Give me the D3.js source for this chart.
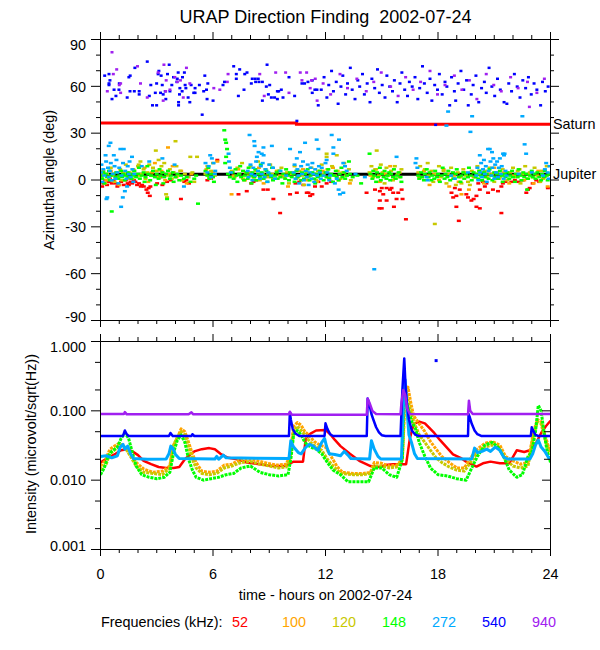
<!DOCTYPE html>
<html><head><meta charset="utf-8">
<script src="https://cdn.jsdelivr.net/npm/d3@7"></script>
<style>
body{margin:0;background:#fff}
svg text{font-family:"Liberation Sans",Arial,Helvetica,sans-serif;fill:#000}
</style>
</head><body>
<svg id="c" width="600" height="650"></svg>
<script>
// ---------------- data ----------------
const titleText = "URAP Direction Finding  2002-07-24";
const hourTicks = [0, 6, 12, 18, 24];
const angleTicks = [90, 60, 30, 0, -30, -60, -90];
const intensityTicks = [1, 0.1, 0.01, 0.001];
const intensityTickLabels = ["1.000", "0.100", "0.010", "0.001"];
const freqLabels = ["52", "100", "120", "148", "272", "540", "940"];

// reference lines (hour, degrees)
const saturn = [[0, 36.5], [10.45, 36.5], [10.45, 35.7], [24, 35.7]];
const jupiter = [[0, 3.7], [24, 3.7]];

// azimuth scatter (hour, degrees)
const ang52 = [[0.09,-4],[0.15,-2],[0.25,0],[0.35,-3],[0.44,-1],[0.5,1],[0.6,-2],[0.7,0],[0.8,-2],[0.9,-4],[0.98,-3],[1.1,-1],[1.24,-3],[1.35,0],[1.45,-2],[1.51,-3],[1.6,-1],[1.69,-2],[1.78,0],[1.86,-1],[1.95,-3],[2.05,-2],[2.15,-4],[2.22,-3],[2.31,-4],[2.45,-6],[2.52,-8],[2.57,-5],[2.63,-10],[2.66,-4],[3.02,-2],[3.19,2],[3.3,-3],[3.55,-1],[3.75,0],[4.29,-12],[4.47,-1],[4.58,0],[4.72,-2],[5.7,0],[5.9,1],[6.23,13],[7.36,-9],[7.8,-7],[8.04,-2],[8.16,-1],[8.3,0],[8.69,-6],[8.92,-6],[9.22,-12],[9.58,-21],[10.11,-9],[10.4,-2],[10.47,-8],[10.6,-1],[10.82,-3],[11.0,-8],[11.09,-8],[11.18,-10],[11.3,-9],[11.44,-4],[11.62,-1],[11.8,-4],[12.06,-2],[12.3,-1],[14.19,-8],[14.64,-6],[14.9,-7],[15.0,-5],[15.08,-9],[15.26,-5],[15.44,-6],[15.52,-5],[15.61,-8],[15.79,-12],[15.88,-8],[16.06,-6],[16.11,-12],[15.26,-13],[14.9,-13],[15.0,-18],[14.87,-18],[15.65,-17],[16.29,-25],[18.72,-8],[18.81,-11],[18.9,-5],[18.98,-10],[18.98,-17],[19.11,-26],[19.16,-6],[19.51,-9],[19.6,-11],[19.78,-13],[19.9,-12],[20.05,-10],[20.05,-17],[20.23,-6],[20.23,-18],[20.15,-2],[20.4,-1],[20.5,-4],[20.58,-2],[20.67,-8],[20.93,-6],[21.2,-7],[21.38,-4],[21.38,-21],[21.46,-2],[21.6,-1],[21.91,-1],[22.1,0],[22.3,-1],[22.53,0],[22.71,-8],[22.8,-6],[22.89,-5],[23.05,-2],[23.24,0],[23.4,-1],[23.86,-5]];

const ang100 = [[0.1,4],[0.3,0],[0.55,6],[0.8,2],[1.0,-3],[1.2,5],[1.5,1],[1.75,7],[2.1,3],[2.35,8],[2.55,-1],[2.75,5],[2.9,11],[3.05,2],[3.25,6],[3.45,0],[3.6,21],[3.65,4],[3.85,9],[4.05,2],[4.3,6],[4.6,-2],[4.85,4],[5.65,7],[5.85,1],[6.0,5],[6.23,12],[6.99,-9],[7.1,3],[7.35,7],[7.7,0],[7.95,5],[8.2,2],[8.45,8],[8.7,-2],[8.95,4],[9.2,1],[9.5,6],[9.75,3],[10.0,-4],[10.25,5],[10.55,2],[10.8,7],[11.05,0],[11.3,4],[11.55,-1],[11.85,6],[12.1,2],[12.4,8],[12.7,0],[13.0,5],[13.3,-2],[14.4,3],[14.65,7],[14.9,-1],[15.2,4],[15.45,9],[15.7,1],[15.95,5],[17.0,2],[17.25,6],[17.55,-3],[17.8,4],[18.05,0],[18.3,7],[18.6,-4],[18.85,3],[19.1,-1],[19.25,-9],[19.4,5],[19.65,-6],[19.9,2],[20.2,6],[20.45,-2],[20.7,4],[21.0,8],[21.25,1],[21.5,5],[21.8,-2],[22.05,3],[22.35,7],[22.6,0],[22.85,4],[23.1,-2],[23.35,6],[23.6,1],[23.85,-4]];

const ang120 = [[0.05,2],[0.15,6],[0.25,-2],[0.35,4],[0.45,1],[0.55,8],[0.65,3],[0.75,-1],[0.85,5],[0.95,2],[1.05,7],[1.15,0],[1.25,4],[1.35,10],[1.45,2],[1.55,5],[1.7,1],[1.8,6],[2.0,9],[2.04,10],[2.13,12],[2.2,4],[2.3,7],[2.4,1],[2.5,5],[2.6,10],[2.7,3],[2.8,8],[2.95,19],[3.0,6],[3.1,13],[3.15,2],[3.25,9],[3.3,5],[3.4,11],[3.5,-9],[3.55,-11],[3.6,3],[3.7,7],[3.8,1],[3.9,5],[4.0,25],[4.05,9],[4.15,3],[4.25,6],[4.35,0],[4.5,4],[4.79,15],[4.7,2],[4.9,5],[5.15,15],[5.0,-1],[5.6,4],[5.7,9],[5.8,2],[5.9,6],[6.0,11],[6.1,3],[7.0,6],[7.15,2],[7.3,8],[7.4,4],[7.55,11],[7.6,1],[7.75,5],[7.9,3],[8.0,9],[8.15,2],[8.3,6],[8.4,12],[8.5,0],[8.65,4],[8.8,7],[8.9,2],[9.05,10],[9.15,4],[9.3,1],[9.4,6],[9.55,3],[9.65,8],[9.8,2],[9.95,5],[10.05,-2],[10.2,4],[10.35,9],[10.45,1],[10.6,6],[10.75,3],[10.85,-3],[11.0,5],[11.1,2],[11.25,8],[11.35,4],[11.5,0],[11.6,6],[11.8,10],[11.9,4],[12.06,17],[12.06,15],[12.1,7],[12.2,2],[12.35,9],[12.5,3],[12.6,16],[12.65,6],[12.8,1],[12.9,5],[13.0,11],[13.1,3],[13.25,7],[13.35,0],[14.35,5],[14.45,9],[14.55,2],[14.7,7],[14.73,19],[14.85,3],[14.95,10],[15.05,5],[15.15,-2],[15.25,8],[15.35,3],[15.5,6],[15.6,0],[15.7,9],[15.85,4],[15.95,2],[16.05,7],[16.95,5],[17.05,9],[17.15,2],[17.3,7],[17.45,11],[17.5,3],[17.65,6],[17.75,-1],[17.83,-28],[17.9,4],[18.05,9],[18.15,2],[18.3,6],[18.45,-2],[18.55,4],[18.7,8],[18.8,1],[18.95,-3],[19.05,5],[19.2,2],[19.25,-2],[19.35,7],[19.5,3],[19.6,-1],[19.7,-3],[19.8,6],[19.95,2],[20.1,9],[20.2,4],[20.35,0],[20.5,6],[20.6,2],[20.75,8],[20.9,4],[21.0,-1],[21.15,5],[21.3,2],[21.45,7],[21.55,3],[21.7,0],[21.85,5],[22.0,8],[22.1,2],[22.25,6],[22.4,-2],[22.5,4],[22.65,9],[22.75,1],[22.9,5],[23.05,2],[23.15,8],[23.3,3],[23.45,-1],[23.55,6],[23.7,2],[23.8,9],[23.95,4]];

const ang148 = [[0.05,3],[0.1,1],[0.15,5],[0.2,-2],[0.3,4],[0.35,2],[0.45,6],[0.5,0],[0.55,3],[0.6,-20],[0.7,4],[0.8,2],[0.85,5],[0.95,1],[1.0,3],[1.1,6],[1.15,2],[1.2,4],[1.3,0],[1.35,3],[1.45,5],[1.5,2],[1.6,4],[1.65,1],[1.75,3],[1.8,6],[1.9,2],[2.0,4],[2.05,8],[2.1,1],[2.2,3],[2.3,5],[2.35,-1],[2.4,2],[2.5,9],[2.55,4],[2.65,0],[2.7,3],[2.8,6],[2.9,2],[2.95,-3],[3.0,4],[3.1,1],[3.15,7],[3.2,3],[3.3,5],[3.35,-2],[3.4,2],[3.5,4],[3.55,-12],[3.6,6],[3.7,1],[3.75,3],[3.85,5],[3.9,-1],[4.0,2],[4.1,4],[4.2,0],[4.3,3],[4.45,1],[4.6,2],[4.8,-1],[5.0,1],[5.1,3],[5.2,-15],[5.6,6],[5.7,3],[5.75,8],[5.8,1],[5.9,4],[6.0,2],[6.05,-1],[6.6,32],[6.65,26],[6.7,24],[6.75,20],[6.7,15],[6.65,11],[6.8,4],[6.9,2],[7.05,5],[7.1,1],[7.2,7],[7.25,3],[7.3,-1],[7.4,4],[7.45,9],[7.5,2],[7.6,6],[7.65,0],[7.7,3],[7.8,5],[7.85,1],[7.9,8],[8.0,3],[8.05,-2],[8.1,5],[8.2,2],[8.25,7],[8.3,0],[8.4,4],[8.5,2],[8.55,10],[8.6,5],[8.7,1],[8.75,3],[8.85,6],[8.9,-1],[9.0,4],[9.1,2],[9.15,8],[9.2,0],[9.3,3],[9.4,5],[9.45,1],[9.55,6],[9.6,2],[9.7,-2],[9.75,4],[9.85,1],[9.9,7],[10.0,3],[10.05,0],[10.1,5],[10.2,2],[10.3,4],[10.35,-1],[10.45,6],[10.5,2],[10.6,3],[10.7,0],[10.75,5],[10.85,1],[10.9,4],[11.0,2],[11.05,7],[11.15,0],[11.2,3],[11.3,5],[11.4,1],[11.45,-2],[11.55,4],[11.6,2],[11.7,6],[11.8,3],[11.9,0],[12.0,5],[12.05,2],[12.15,7],[12.2,1],[12.3,4],[12.4,-1],[12.45,3],[12.55,6],[12.6,2],[12.7,0],[12.75,4],[12.85,8],[12.9,2],[13.0,5],[13.05,1],[13.15,3],[13.25,12],[13.3,4],[13.45,2],[13.7,3],[13.9,-2],[14.35,17],[14.4,4],[14.5,1],[14.55,6],[14.6,3],[14.7,-1],[14.75,5],[14.8,2],[14.9,8],[14.95,0],[15.0,4],[15.1,2],[15.15,6],[15.25,1],[15.3,3],[15.4,5],[15.45,0],[15.5,4],[15.6,2],[15.65,7],[15.75,1],[15.8,3],[15.9,5],[16.0,2],[16.05,-1],[16.95,3],[17.0,1],[17.1,5],[17.15,2],[17.25,0],[17.3,4],[17.4,7],[17.5,2],[17.55,5],[17.65,0],[17.7,3],[17.8,1],[17.85,6],[17.95,2],[18.0,4],[18.1,-1],[18.2,3],[18.25,8],[18.35,1],[18.4,4],[18.5,2],[18.55,6],[18.65,0],[18.7,3],[18.8,5],[18.85,1],[18.95,4],[19.0,7],[19.1,2],[19.2,-1],[19.25,3],[19.35,5],[19.4,1],[19.5,4],[19.6,2],[19.65,8],[19.75,3],[19.8,0],[19.9,5],[20.0,2],[20.05,4],[20.15,1],[20.2,6],[20.3,3],[20.35,0],[20.45,5],[20.5,2],[20.6,4],[20.7,1],[20.75,7],[20.85,3],[20.9,0],[21.0,5],[21.05,2],[21.15,4],[21.2,1],[21.3,6],[21.4,3],[21.45,-1],[21.55,4],[21.6,2],[21.7,5],[21.8,1],[21.85,3],[21.95,6],[22.0,2],[22.1,-1],[22.15,4],[22.25,2],[22.3,7],[22.4,3],[22.45,0],[22.55,5],[22.6,2],[22.7,4],[22.75,-6],[22.8,1],[22.9,3],[23.0,6],[23.05,2],[23.15,4],[23.2,1],[23.3,5],[23.4,2],[23.5,0],[23.55,4],[23.65,2],[23.7,6],[23.8,3],[23.85,0],[23.95,4]];

const ang272 = [[0.02,5],[0.05,10],[0.1,-1],[0.15,7],[0.2,3],[0.27,16],[0.3,12],[0.32,-12],[0.36,-11],[0.4,8],[0.44,22],[0.45,2],[0.5,6],[0.53,24],[0.55,11],[0.6,0],[0.65,4],[0.71,16],[0.75,9],[0.8,1],[0.85,13],[0.9,5],[0.95,-2],[1.0,8],[1.06,20],[1.1,-17],[1.12,3],[1.19,-11],[1.2,11],[1.24,20],[1.3,-7],[1.32,6],[1.38,1],[1.42,-4],[1.45,9],[1.5,4],[1.55,12],[1.6,2],[1.68,15],[1.7,7],[1.75,-1],[1.8,4],[2.2,9],[2.6,12],[3.3,14],[3.95,10],[4.45,-4],[5.6,11],[5.7,5],[5.77,9],[5.85,16],[5.9,2],[5.94,14],[6.03,11],[6.1,4],[6.12,6],[6.83,17],[6.85,12],[6.9,8],[6.95,5],[7.95,29],[8.2,25],[8.22,22],[8.34,15],[8.43,18],[8.6,17],[8.69,21],[8.7,16],[9.14,22],[7.85,6],[7.9,2],[8.0,10],[8.05,4],[8.1,0],[8.15,8],[8.25,3],[8.3,12],[8.4,6],[8.5,1],[8.55,9],[8.6,4],[8.65,11],[8.75,2],[8.8,7],[8.9,-1],[8.95,5],[9.0,10],[9.1,3],[9.2,8],[9.3,1],[9.6,6],[9.9,3],[10.11,20],[10.3,5],[10.35,10],[10.4,1],[10.47,14],[10.5,7],[10.55,3],[10.6,-2],[10.64,18],[10.7,9],[10.75,4],[10.8,12],[10.85,0],[10.91,24],[10.95,6],[11.0,2],[11.05,10],[11.1,-3],[11.15,5],[11.2,8],[11.25,1],[11.3,11],[11.35,4],[11.4,-1],[11.45,7],[11.53,26],[11.55,3],[11.62,20],[11.65,9],[11.7,5],[11.75,1],[11.8,8],[11.9,3],[12.0,11],[12.06,13],[12.1,5],[12.2,0],[12.24,3],[12.33,29],[12.42,21],[12.42,17],[12.5,-2],[12.6,1],[12.7,-6],[12.72,26],[12.77,-9],[12.95,11],[12.95,-8],[13.04,9],[13.13,6],[13.6,4],[14.1,2],[14.6,-57],[15.79,15],[16.85,14],[16.8,11],[16.9,8],[17.39,2],[17.45,0],[18.45,35],[18.54,44],[18.7,3],[18.9,1],[19.73,31],[19.82,41],[19.6,5],[20.05,3],[20.1,8],[20.15,0],[20.23,16],[20.25,5],[20.3,11],[20.35,2],[20.4,7],[20.45,13],[20.5,4],[20.55,9],[20.6,-1],[20.67,20],[20.7,6],[20.76,20],[20.8,12],[20.85,3],[20.88,18],[20.9,8],[20.95,14],[21.0,1],[21.05,10],[21.1,5],[21.15,12],[21.2,2],[21.25,8],[21.3,14],[21.35,4],[21.4,9],[21.47,17],[21.5,1],[21.52,16],[21.55,17],[21.6,6],[21.65,3],[22.5,41],[22.62,23],[22.7,17],[22.3,4],[23.0,5],[23.6,3],[23.7,7],[23.77,11],[23.85,5],[23.9,1],[23.95,9]];

const ang540 = [[0.25,67],[0.48,68],[0.48,62],[0.48,61],[0.53,64],[0.64,52],[0.75,58],[0.85,54],[1.01,58],[1.03,62],[1.45,53],[1.54,66],[1.61,67],[1.6,57],[1.86,72],[1.83,57],[2.09,57],[2.09,55],[2.52,76],[2.63,54],[2.71,61],[2.8,48],[3.02,48],[2.95,56],[3.02,62],[3.14,70],[3.1,68],[3.23,56],[3.26,67],[3.32,61],[3.37,55],[3.48,57],[3.51,52],[3.6,68],[3.69,74],[3.73,57],[3.83,61],[3.92,66],[4.1,63],[4.12,65],[4.17,69],[4.19,50],[4.19,48],[4.26,59],[4.24,55],[4.38,57],[4.4,66],[4.5,69],[4.54,61],[4.58,59],[4.7,53],[4.79,50],[4.86,61],[5.0,56],[5.07,59],[5.07,56],[5.3,61],[5.45,42],[5.53,57],[5.59,67],[5.68,58],[5.71,52],[5.75,62],[6.03,51],[6.56,61],[6.64,63],[7.13,73],[7.27,68],[7.27,65],[7.38,54],[7.45,71],[7.68,58],[7.72,68],[7.84,69],[8.07,62],[8.12,65],[8.28,65],[8.3,63],[8.44,65],[8.48,63],[8.66,63],[8.66,51],[8.87,60],[8.91,74],[8.98,55],[9.05,61],[9.14,53],[9.31,53],[9.46,52],[9.46,57],[9.53,57],[9.67,58],[9.76,53],[10.08,66],[10.38,54],[10.5,38],[10.77,62],[10.91,62],[11.09,63],[11.32,56],[11.32,64],[11.46,58],[11.57,58],[11.64,48],[11.8,58],[11.95,66],[12.1,53],[12.2,61],[12.35,70],[12.45,57],[12.6,63],[12.7,49],[12.85,60],[12.95,67],[13.1,55],[13.2,62],[13.35,72],[13.45,58],[13.6,52],[13.75,64],[13.85,60],[14.0,68],[14.1,55],[14.25,62],[14.4,50],[14.5,65],[14.65,59],[14.8,71],[14.9,56],[15.05,61],[15.2,53],[15.3,67],[15.45,60],[15.6,57],[15.7,64],[15.85,50],[16.0,62],[16.1,69],[16.25,58],[16.4,54],[16.5,63],[16.65,60],[16.8,66],[16.95,52],[17.05,59],[17.2,73],[17.3,62],[17.45,56],[17.6,65],[17.7,51],[17.85,61],[17.9,35.5],[18.0,58],[18.1,68],[18.25,55],[18.4,63],[18.5,60],[18.65,48],[18.75,66],[18.9,57],[18.97,51],[19.1,62],[19.25,70],[19.4,58],[19.55,64],[19.64,48],[19.8,55],[19.9,61],[20.05,67],[20.2,50],[20.35,59],[20.5,63],[20.6,56],[20.75,72],[20.9,60],[21.05,54],[21.2,65],[21.35,58],[21.55,50],[21.7,49],[21.8,62],[21.95,57],[22.1,68],[22.25,60],[22.4,53],[22.55,64],[22.7,59],[22.85,66],[23.0,55],[23.15,62],[23.3,58],[23.5,48],[23.6,63],[23.75,57],[23.9,60]];

const ang940 = [[0.64,82],[0.39,57],[0.71,68],[0.89,71],[1.03,61],[1.1,56],[1.1,62],[2.0,73],[2.16,62],[2.52,53],[3.1,69],[3.37,51],[3.41,74],[3.5,57],[3.53,64],[3.73,58],[3.99,66],[4.12,63],[4.29,64],[4.44,53],[4.61,72],[4.79,62],[6.07,59],[6.39,58],[6.79,63],[6.83,68],[8.52,68],[8.76,54],[9.37,69],[9.9,69],[10.08,56],[10.68,69],[10.77,64],[11.02,69],[11.21,59],[11.28,64],[11.48,65],[11.58,51],[11.9,62],[12.3,55],[12.8,68],[13.2,59],[13.7,65],[14.2,57],[14.6,63],[15.0,69],[15.5,60],[15.9,54],[16.3,66],[16.7,58],[17.1,63],[17.6,70],[18.0,55],[18.4,61],[18.9,67],[19.3,58],[19.7,64],[20.1,52],[20.6,68],[21.0,61],[21.4,57],[21.9,66],[22.3,59],[22.8,63],[22.9,47],[23.3,56],[23.7,65]];

// intensity traces (hour, microvolt/sqrt(Hz))
const int52 = [[0,0.018],[0.4,0.021],[0.8,0.024],[1.1,0.027],[1.4,0.028],[1.7,0.026],[2.0,0.023],[2.3,0.019],[2.7,0.017],[3.1,0.0155],[3.5,0.015],[3.9,0.015],[4.2,0.0155],[4.5,0.02],[4.75,0.023],[5.0,0.026],[5.4,0.028],[5.8,0.029],[6.1,0.028],[6.4,0.024],[6.8,0.021],[7.3,0.020],[7.8,0.018],[8.5,0.017],[9.2,0.016],[9.8,0.016],[10.3,0.0185],[10.8,0.0185],[10.95,0.04],[11.2,0.047],[11.5,0.052],[12.0,0.053],[12.25,0.046],[12.5,0.038],[12.8,0.031],[13.3,0.024],[13.8,0.019],[14.4,0.016],[14.9,0.0155],[15.2,0.0165],[15.6,0.017],[16.0,0.017],[16.3,0.017],[16.5,0.04],[16.7,0.065],[17.0,0.07],[17.3,0.066],[17.5,0.058],[17.8,0.048],[18.1,0.038],[18.45,0.030],[18.8,0.0235],[19.2,0.021],[19.5,0.0185],[20.05,0.0157],[20.4,0.0175],[20.8,0.0185],[21.3,0.0175],[21.8,0.0175],[22.2,0.027],[22.6,0.0255],[22.9,0.027],[23.2,0.033],[23.5,0.048],[23.75,0.06],[24,0.072]];

const int100 = [[0,0.016],[0.25,0.019],[0.5,0.028],[0.75,0.031],[1.0,0.034],[1.3,0.029],[1.6,0.024],[1.9,0.018],[2.3,0.0145],[2.8,0.013],[3.3,0.0135],[3.7,0.016],[3.85,0.03],[4.05,0.038],[4.3,0.055],[4.5,0.05],[4.7,0.035],[4.9,0.024],[5.1,0.018],[5.4,0.0135],[5.8,0.013],[6.2,0.0135],[6.6,0.0165],[7.0,0.017],[7.4,0.0195],[7.9,0.020],[8.4,0.019],[8.9,0.0175],[9.4,0.0165],[9.9,0.017],[10.1,0.022],[10.3,0.06],[10.5,0.068],[10.7,0.062],[10.9,0.05],[11.1,0.045],[11.4,0.036],[11.7,0.032],[12.0,0.03],[12.3,0.022],[12.6,0.016],[12.9,0.013],[13.5,0.0125],[14.0,0.0125],[14.4,0.013],[14.6,0.018],[15.0,0.0175],[15.4,0.016],[15.8,0.0165],[16.1,0.02],[16.25,0.15],[16.4,0.22],[16.55,0.13],[16.7,0.085],[17.0,0.065],[17.3,0.05],[17.6,0.036],[17.9,0.028],[18.2,0.022],[18.6,0.018],[19.0,0.015],[19.4,0.015],[19.8,0.022],[20.1,0.028],[20.5,0.034],[20.9,0.036],[21.3,0.032],[21.6,0.022],[22.0,0.019],[22.4,0.017],[22.8,0.018],[23.1,0.05],[23.3,0.075],[23.5,0.07],[23.7,0.045],[23.9,0.03],[24,0.028]];

const int120 = [[0,0.014],[0.3,0.017],[0.5,0.024],[0.8,0.028],[1.1,0.032],[1.3,0.03],[1.6,0.022],[1.9,0.016],[2.3,0.013],[2.8,0.0125],[3.3,0.012],[3.7,0.015],[3.85,0.03],[4.1,0.042],[4.3,0.05],[4.5,0.045],[4.7,0.03],[4.9,0.02],[5.1,0.015],[5.4,0.0125],[5.8,0.012],[6.2,0.0125],[6.6,0.015],[7.0,0.016],[7.5,0.018],[8.0,0.0185],[8.5,0.017],[9.0,0.016],[9.5,0.015],[9.9,0.0155],[10.1,0.02],[10.3,0.05],[10.5,0.06],[10.7,0.052],[10.9,0.045],[11.2,0.035],[11.5,0.03],[11.8,0.027],[12.1,0.02],[12.4,0.016],[12.8,0.0125],[13.5,0.012],[14.0,0.012],[14.4,0.0125],[14.6,0.016],[15.0,0.016],[15.4,0.015],[15.8,0.0155],[16.1,0.02],[16.22,0.18],[16.35,0.16],[16.5,0.11],[16.7,0.07],[17.0,0.045],[17.3,0.035],[17.6,0.027],[17.9,0.021],[18.2,0.018],[18.6,0.0155],[19.0,0.014],[19.4,0.0135],[19.8,0.019],[20.1,0.025],[20.5,0.03],[20.9,0.032],[21.3,0.028],[21.6,0.02],[22.0,0.016],[22.4,0.015],[22.8,0.016],[23.1,0.045],[23.3,0.07],[23.5,0.065],[23.7,0.04],[23.9,0.027],[24,0.025]];

const int148 = [[0,0.012],[0.2,0.015],[0.4,0.022],[0.6,0.026],[0.9,0.030],[1.1,0.04],[1.3,0.048],[1.5,0.04],[1.7,0.025],[1.9,0.016],[2.2,0.012],[2.6,0.011],[3.0,0.0105],[3.4,0.011],[3.7,0.013],[3.9,0.025],[4.1,0.038],[4.3,0.045],[4.5,0.035],[4.7,0.02],[4.9,0.014],[5.1,0.011],[5.5,0.010],[5.9,0.0105],[6.3,0.011],[6.7,0.012],[7.1,0.0125],[7.5,0.015],[8.0,0.016],[8.5,0.013],[9.0,0.012],[9.5,0.0115],[10.0,0.012],[10.15,0.02],[10.3,0.045],[10.5,0.052],[10.7,0.045],[10.9,0.035],[11.2,0.03],[11.5,0.028],[11.8,0.024],[12.1,0.018],[12.4,0.014],[12.8,0.012],[13.2,0.0095],[13.8,0.0095],[14.3,0.0095],[14.6,0.015],[15.0,0.015],[15.4,0.012],[15.8,0.011],[16.1,0.02],[16.18,0.2],[16.3,0.14],[16.45,0.10],[16.6,0.07],[16.8,0.055],[17.0,0.035],[17.3,0.022],[17.6,0.015],[18.0,0.012],[18.5,0.0115],[19.0,0.0105],[19.5,0.010],[19.8,0.015],[20.1,0.022],[20.5,0.032],[20.9,0.035],[21.2,0.03],[21.5,0.022],[21.8,0.014],[22.2,0.011],[22.5,0.012],[22.8,0.022],[23.0,0.025],[23.2,0.05],[23.35,0.12],[23.5,0.10],[23.65,0.05],[23.8,0.028],[24,0.018]];

const int272 = [[0,0.022],[0.3,0.0225],[0.6,0.021],[0.9,0.0225],[1.05,0.03],[1.2,0.033],[1.3,0.028],[1.45,0.031],[1.6,0.024],[1.75,0.0205],[2.5,0.02],[3.5,0.0202],[3.65,0.024],[3.75,0.031],[3.85,0.029],[4.0,0.0235],[4.2,0.0205],[6.1,0.0202],[6.2,0.022],[6.3,0.020],[6.55,0.023],[6.7,0.021],[10.05,0.0205],[10.15,0.037],[10.3,0.030],[10.55,0.025],[10.7,0.024],[10.95,0.030],[11.15,0.033],[11.35,0.031],[11.6,0.027],[11.8,0.035],[11.95,0.040],[12.05,0.031],[12.2,0.024],[12.5,0.0235],[12.8,0.0225],[13.0,0.026],[13.2,0.023],[13.35,0.0205],[14.35,0.0202],[14.45,0.037],[14.6,0.028],[14.8,0.022],[14.95,0.0202],[16.05,0.0202],[16.15,0.12],[16.25,0.28],[16.35,0.10],[16.45,0.045],[16.6,0.034],[16.75,0.024],[16.9,0.0205],[19.8,0.0202],[19.95,0.029],[20.1,0.025],[20.35,0.026],[20.6,0.028],[20.8,0.026],[21.05,0.030],[21.3,0.027],[21.5,0.0215],[21.7,0.0202],[22.9,0.0202],[23.05,0.024],[23.2,0.032],[23.35,0.038],[23.5,0.030],[23.7,0.026],[23.9,0.021],[24,0.0205]];

const int540 = [[0,0.0434],[1.2,0.0434],[1.3,0.052],[1.4,0.046],[1.5,0.0434],[3.65,0.0434],[3.73,0.048],[3.85,0.0434],[4.85,0.0434],[4.9,0.046],[5.0,0.0434],[10.05,0.0434],[10.1,0.095],[10.15,0.075],[10.25,0.055],[10.4,0.047],[10.6,0.0434],[11.95,0.0434],[12.0,0.066],[12.1,0.055],[12.25,0.046],[12.4,0.0434],[14.2,0.0434],[14.25,0.15],[14.35,0.12],[14.45,0.09],[14.55,0.075],[14.7,0.058],[14.85,0.049],[15.0,0.0445],[15.2,0.0434],[16.0,0.0434],[16.1,0.2],[16.2,0.57],[16.28,0.2],[16.35,0.12],[16.45,0.075],[16.6,0.052],[16.8,0.045],[17.0,0.0434],[19.6,0.0434],[19.63,0.09],[19.7,0.08],[19.8,0.065],[19.95,0.052],[20.1,0.046],[20.3,0.0434],[22.95,0.0434],[23.0,0.058],[23.1,0.05],[23.2,0.045],[23.35,0.0434],[24,0.0434]];
const int540Isolated = [[17.9, 0.53]];

const int940 = [[0,0.090],[1.25,0.090],[1.3,0.096],[1.4,0.089],[4.7,0.089],[4.85,0.095],[4.95,0.089],[10.05,0.089],[10.1,0.097],[10.2,0.088],[14.2,0.088],[14.25,0.15],[14.35,0.13],[14.5,0.10],[14.7,0.090],[16.0,0.089],[16.05,0.13],[16.15,0.20],[16.25,0.17],[16.35,0.11],[16.5,0.090],[19.6,0.089],[19.65,0.14],[19.72,0.10],[19.85,0.090],[24,0.090]];

// ---------------- drawing ----------------
const colors = ["#ff0000", "#ffa500", "#c8c800", "#00ff00", "#00aaff", "#0000ff", "#a020f0"];
const angleSeries = [ang52, ang100, ang120, ang148, ang272, ang540, ang940];
const intSeries = [int52, int100, int120, int148, int272, int540, int940];

const svg = d3.select("#c");
const x = d3.scaleLinear().domain([0, 24]).range([100, 550]);
const yA = d3.scaleLinear().domain([-90, 90]).range([320, 39]);
const yI = d3.scaleLog().domain([0.001, 1]).range([549, 341]);

const defs = svg.append("defs");
defs.append("clipPath").attr("id", "clipA").append("rect").attr("x", 100.5).attr("y", 39.5).attr("width", 450).attr("height", 281);
defs.append("clipPath").attr("id", "clipI").append("rect").attr("x", 100.5).attr("y", 341.5).attr("width", 450).attr("height", 208);

// title
svg.append("text").attr("x", 325.5).attr("y", 23).attr("text-anchor", "middle")
  .attr("xml:space", "preserve").style("white-space", "pre")
  .style("font-size", "18px").text(titleText);

// --- top panel data
const gA = svg.append("g").attr("clip-path", "url(#clipA)");
const lineA = d3.line().x(d => x(d[0]) + 0.5).y(d => yA(d[1]) + 0.5);
gA.append("path").datum(saturn).attr("d", lineA).attr("fill", "none").attr("stroke", "#ff0000").attr("stroke-width", 3);
gA.append("path").datum(jupiter).attr("d", lineA).attr("fill", "none").attr("stroke", "#000").attr("stroke-width", 3);
const dotW = [4, 4, 4, 4, 4, 3, 3];
angleSeries.forEach((s, i) => {
  gA.append("g").selectAll("rect").data(s).join("rect")
    .attr("x", d => x(d[0]) - 1.5)
    .attr("y", d => yA(d[1]) - 0.5)
    .attr("width", dotW[i]).attr("height", 2.5)
    .attr("fill", colors[i]);
});

// --- bottom panel data
const gI = svg.append("g").attr("clip-path", "url(#clipI)");
const lineI = d3.line().x(d => x(d[0]) + 0.5).y(d => yI(d[1]) + 0.5);
const widths = [2.5, 3, 3, 3, 3, 2.5, 2.5];
const dashes = [null, "3 1", "3 1", "3 1", null, null, null];
intSeries.forEach((s, i) => {
  gI.append("path").datum(s).attr("d", lineI).attr("fill", "none")
    .attr("stroke", colors[i]).attr("stroke-width", widths[i]).attr("stroke-linejoin", "round")
    .attr("stroke-dasharray", dashes[i]);
});
gI.selectAll("rect.iso").data(int540Isolated).join("rect").attr("class", "iso")
  .attr("x", d => x(d[0]) - 1).attr("y", d => yI(d[1]) - 1).attr("width", 3).attr("height", 3).attr("fill", colors[5]);

// --- axes
function ax(gen, tx, ty, vals, size) {
  const g = svg.append("g").attr("transform", `translate(${tx},${ty})`)
    .call(gen.tickValues(vals).tickSize(size).tickSizeOuter(0).tickFormat(""));
  g.selectAll("text").remove();
  g.selectAll("path,line").attr("stroke", "#000").attr("stroke-width", 1);
  return g;
}
const hoursMinor = d3.range(0, 25).filter(h => h % 6 !== 0);
const angMinor = d3.range(-80, 90, 10).filter(v => v % 30 !== 0);
const intMinor = [0.5, 0.2, 0.05, 0.02, 0.005, 0.002];

// top panel
ax(d3.axisLeft(yA), 100, 0, angleTicks, 9);
ax(d3.axisLeft(yA), 100, 0, angMinor, 4);
ax(d3.axisRight(yA), 550, 0, angleTicks, 9);
ax(d3.axisRight(yA), 550, 0, angMinor, 4);
ax(d3.axisTop(x), 0, 39, hourTicks, 7);
ax(d3.axisTop(x), 0, 39, hoursMinor, 4);
ax(d3.axisBottom(x), 0, 320, hourTicks, 7);
ax(d3.axisBottom(x), 0, 320, hoursMinor, 4);
// bottom panel
ax(d3.axisLeft(yI), 100, 0, intensityTicks, 9);
ax(d3.axisLeft(yI), 100, 0, intMinor, 5);
ax(d3.axisRight(yI), 550, 0, intensityTicks, -8);
ax(d3.axisRight(yI), 550, 0, intMinor, -6);
ax(d3.axisTop(x), 0, 341, hourTicks, 7);
ax(d3.axisTop(x), 0, 341, hoursMinor, 4);
ax(d3.axisBottom(x), 0, 549, hourTicks, 7);
ax(d3.axisBottom(x), 0, 549, hoursMinor, 4);

// tick labels
const fs = "14.4px";
function endShift(i, n) { return i === 0 ? 5 : (i === n - 1 ? -4 : 0); }
svg.append("g").selectAll("text").data(angleTicks).join("text")
  .attr("x", 86).attr("y", (d, i) => yA(d) + 0.5 + endShift(i, angleTicks.length))
  .attr("dy", "0.36em").attr("text-anchor", "end").style("font-size", fs).text(d => String(d));
svg.append("g").selectAll("text").data(intensityTicks).join("text")
  .attr("x", 86).attr("y", (d, i) => yI(d) + 0.5 + endShift(i, intensityTicks.length))
  .attr("dy", "0.36em").attr("text-anchor", "end").style("font-size", fs).text((d, i) => intensityTickLabels[i]);
svg.append("g").selectAll("text").data(hourTicks).join("text")
  .attr("x", d => x(d) + 0.5).attr("y", 579).attr("text-anchor", "middle").style("font-size", fs).text(d => String(d));

// planet labels
svg.append("text").attr("x", 553).attr("y", yA(saturn[saturn.length - 1][1]) + 0.5).attr("dy", "0.36em").style("font-size", fs).text("Saturn");
svg.append("text").attr("x", 553).attr("y", yA(jupiter[jupiter.length - 1][1]) + 0.5).attr("dy", "0.36em").style("font-size", fs).text("Jupiter");

// axis titles
svg.append("text").attr("transform", "translate(54,180) rotate(-90)").attr("text-anchor", "middle")
  .style("font-size", fs).text("Azimuthal angle (deg)");
svg.append("text").attr("transform", "translate(36,444) rotate(-90)").attr("text-anchor", "middle")
  .style("font-size", fs).text("Intensity (microvolt/sqrt(Hz))");
svg.append("text").attr("x", 325.5).attr("y", 600).attr("text-anchor", "middle")
  .style("font-size", fs).text("time - hours on 2002-07-24");

// legend
svg.append("text").attr("x", 101).attr("y", 627).style("font-size", fs).text("Frequencies (kHz):");
svg.append("g").selectAll("text").data(freqLabels).join("text")
  .attr("x", (d, i) => 232 + 50 * i).attr("y", 627).style("font-size", fs)
  .style("fill", (d, i) => colors[i]).text(d => d);
</script>
</body></html>
